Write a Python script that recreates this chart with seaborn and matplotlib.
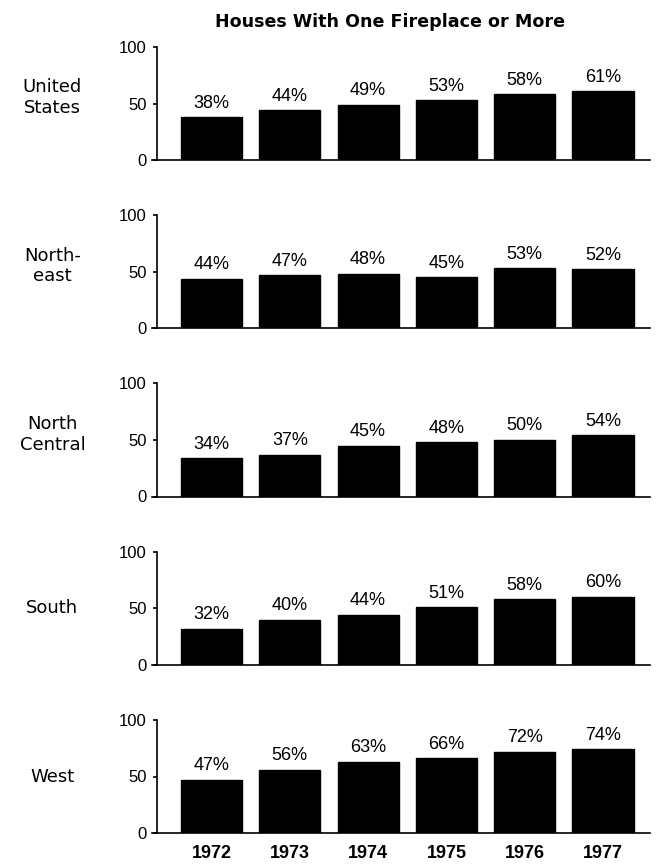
import matplotlib
matplotlib.use("Agg")
import matplotlib.pyplot as plt
import matplotlib.transforms as mtransforms
import pandas as pd
import seaborn as sns

# values (percent of houses with >= 1 fireplace)
YEARS = ["1972", "1973", "1974", "1975", "1976", "1977"]
REGIONS = ["United\nStates", "North-\neast", "North\nCentral", "South", "West"]
US = [38, 44, 49, 53, 58, 61]
NORTHEAST = [44, 47, 48, 45, 53, 52]
NORTH_CENTRAL = [34, 37, 45, 48, 50, 54]
SOUTH = [32, 40, 44, 51, 58, 60]
WEST = [47, 56, 63, 66, 72, 74]
SERIES = [US, NORTHEAST, NORTH_CENTRAL, SOUTH, WEST]

sns.set_style("ticks")
plt.rcParams["font.family"] = ["Liberation Sans", "DejaVu Sans"]
for k in ("text.color", "axes.labelcolor", "xtick.color", "ytick.color"):
    plt.rcParams[k] = "black"
WIDE = ["DejaVu Sans"]  # the original lettering is wide-set

W, H = 669, 864
fig = plt.figure(figsize=(W / 100, H / 100), dpi=100)

ax_left, ax_right = 152, 650
top0, bot0, step = 47, 160, 168.25

for i, (region, vals) in enumerate(zip(REGIONS, SERIES)):
    bottom_px = bot0 + step * i
    ax = fig.add_axes([ax_left / W, 1 - bottom_px / H,
                       (ax_right - ax_left) / W, (bot0 - top0) / H])
    df = pd.DataFrame({"year": YEARS, "pct": vals})
    sns.barplot(data=df, x="year", y="pct", color="black", width=0.78,
                saturation=1, ax=ax)
    for patch in ax.patches:
        patch.set_edgecolor("black")

    ax.set_xlim(-0.76, 5.6)
    ax.set_ylim(0, 100)
    ax.spines["left"].set_position(("data", -0.7))
    ax.spines["top"].set_visible(False)
    ax.spines["right"].set_visible(False)
    for s in ("left", "bottom"):
        ax.spines[s].set_linewidth(1.2)
        ax.spines[s].set_color("black")

    ax.set_yticks([0, 50, 100])
    ax.set_yticklabels(["0", "50", "100"], fontsize=12)
    ax.tick_params(axis="y", length=3, width=1.2, pad=4)
    ax.set_xlabel("")
    ax.set_ylabel("")

    if i == len(SERIES) - 1:
        ax.tick_params(axis="x", length=0, pad=9)
        ax.set_xticks(range(len(YEARS)))
        ax.set_xticklabels(YEARS, fontsize=13, fontweight="bold")
    else:
        ax.set_xticks([])

    for x, v in enumerate(vals):
        ax.annotate(f"{v}%", (x, v), xytext=(0, 4), textcoords="offset points",
                    ha="center", va="bottom", fontsize=13, annotation_clip=False)

    trans = mtransforms.blended_transform_factory(ax.transAxes, ax.transData)
    ax.text(-0.2, 55 if "\n" in region else 50, region, transform=trans,
            ha="center", va="center", fontsize=13, linespacing=1.2,
            family=WIDE)

fig.text(390 / W, 1 - 22 / H, "Houses With One Fireplace or More",
         ha="center", va="center", fontsize=12.6, fontweight="bold",
         family=WIDE)

fig.savefig("out.png", dpi=100, facecolor="white")
